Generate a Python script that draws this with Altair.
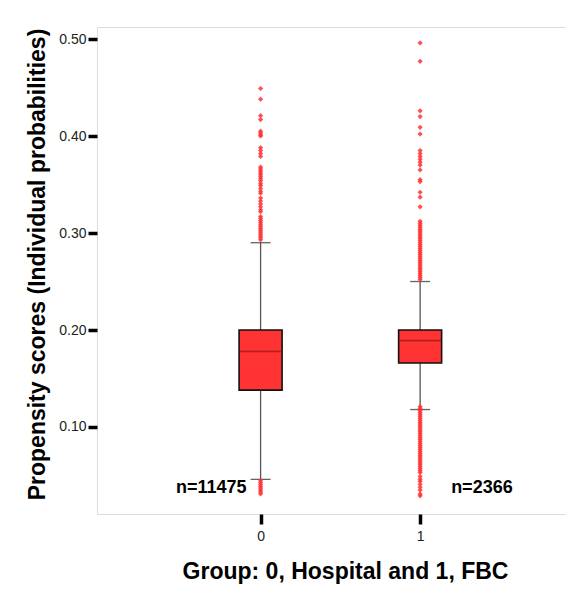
import altair as alt
import pandas as pd

# ---- data ----
groups = [0, 1]
counts = ["n=11475", "n=2366"]
q1 = [0.138, 0.166]
median = [0.178, 0.189]
q3 = [0.200, 0.200]
whisker_lo = [0.046, 0.118]
whisker_hi = [0.290, 0.250]

outliers_0 = [0.449, 0.438, 0.421, 0.417, 0.405, 0.403, 0.401, 0.400,
              0.388, 0.385, 0.382, 0.379,
              0.368, 0.366, 0.364, 0.362, 0.360, 0.358, 0.356, 0.354, 0.351,
              0.349, 0.346, 0.343, 0.341, 0.336, 0.333, 0.330, 0.327, 0.324,
              0.322, 0.317, 0.315, 0.313, 0.311, 0.309, 0.307, 0.305, 0.303,
              0.301, 0.299, 0.297, 0.295, 0.293,
              0.045, 0.043, 0.041, 0.039, 0.037, 0.035, 0.033, 0.031]
outliers_1 = [0.496, 0.477, 0.426, 0.420, 0.409, 0.402, 0.385, 0.382,
              0.379, 0.376, 0.373, 0.370, 0.365, 0.355, 0.353, 0.342, 0.337,
              0.327, 0.312, 0.310, 0.308, 0.306, 0.304, 0.302, 0.300, 0.298,
              0.296, 0.294, 0.292, 0.290, 0.288, 0.286, 0.284, 0.282, 0.280,
              0.278, 0.276, 0.274, 0.272, 0.270, 0.268, 0.266, 0.264, 0.262,
              0.260, 0.258, 0.256, 0.254, 0.252,
              0.121, 0.119, 0.117, 0.115, 0.113, 0.111, 0.109, 0.107, 0.105,
              0.103, 0.101, 0.099, 0.097, 0.095, 0.093, 0.091, 0.089, 0.087,
              0.085, 0.083, 0.081, 0.079, 0.077, 0.075, 0.073, 0.071, 0.069,
              0.067, 0.065, 0.063, 0.061, 0.059, 0.057, 0.055, 0.053, 0.049,
              0.046, 0.044, 0.041, 0.038, 0.035, 0.031, 0.029]

stats = pd.DataFrame({"group": groups, "q1": q1, "median": median, "q3": q3,
                      "lo": whisker_lo, "hi": whisker_hi, "label": counts})
pts = pd.DataFrame({"group": [0] * len(outliers_0) + [1] * len(outliers_1),
                    "value": outliers_0 + outliers_1})
label_y = [0.037, 0.037]
labels = pd.DataFrame({"group": groups, "label": counts, "y": label_y})

FONT = "Liberation Sans"
RED = "#ff3333"

xs = alt.Scale(domain=[-0.994, 1.883], nice=False, zero=False)
ys = alt.Scale(domain=[0.0103, 0.5124], nice=False, zero=False)

x_axis = alt.Axis(values=[0, 1], format="d", title="Group: 0, Hospital and 1, FBC",
                  grid=False, domain=False, tickColor="black", tickWidth=3.5,
                  tickSize=10, labelFontSize=14, labelColor="#222", labelFont=FONT,
                  labelPadding=5, titleFont=FONT, titleFontSize=23,
                  titleFontWeight="bold", titleColor="black", titlePadding=17,
                  titleX=248)
y_axis = alt.Axis(values=[0.1, 0.2, 0.3, 0.4, 0.5], format=".2f",
                  title="Propensity scores (Individual probabilities)",
                  grid=False, domain=False, tickColor="black", tickWidth=3.5,
                  tickSize=9, labelFontSize=14, labelColor="#222", labelFont=FONT,
                  labelPadding=2, titleFont=FONT, titleFontSize=23,
                  titleFontWeight="bold", titleColor="black", titlePadding=9,
                  titleY=237)

base = alt.Chart(stats)

whisk = base.mark_rule(color="#555", strokeWidth=1.3).encode(
    x=alt.X("group:Q", scale=xs, axis=x_axis),
    y=alt.Y("lo:Q", scale=ys, axis=y_axis),
    y2="hi:Q")
caps_lo = base.mark_tick(orient="horizontal", size=20, thickness=1.3, color="#222").encode(
    x="group:Q", y="lo:Q")
caps_hi = base.mark_tick(orient="horizontal", size=20, thickness=1.3, color="#222").encode(
    x="group:Q", y="hi:Q")
box = base.mark_bar(size=43, color=RED, stroke="#111", strokeWidth=1.6).encode(
    x="group:Q", y="q1:Q", y2="q3:Q")
med = base.mark_tick(orient="horizontal", size=42, thickness=1.8, color="#9b1515").encode(
    x="group:Q", y="median:Q")
points = alt.Chart(pts).mark_point(shape="diamond", filled=True, size=27,
                                   color=RED, opacity=0.85).encode(
    x="group:Q", y="value:Q")

lab0 = alt.Chart(labels[labels.group == 0]).mark_text(
    align="right", baseline="middle", dx=-14, font=FONT, fontSize=18,
    fontWeight="bold", color="black").encode(x="group:Q", y="y:Q", text="label:N")
lab1 = alt.Chart(labels[labels.group == 1]).mark_text(
    align="left", baseline="middle", dx=31, font=FONT, fontSize=18,
    fontWeight="bold", color="black").encode(x="group:Q", y="y:Q", text="label:N")

chart = alt.layer(whisk, caps_lo, caps_hi, box, med, points, lab0, lab1).properties(
    width=469, height=487,
    autosize=alt.AutoSizeParams(type="none"),
    padding={"left": 89, "top": 19, "right": 0, "bottom": 70},
).configure_view(stroke="#808080", strokeWidth=1.2).configure(background="white")

chart.save("out.html", embed_options={"renderer": "svg", "actions": False})
